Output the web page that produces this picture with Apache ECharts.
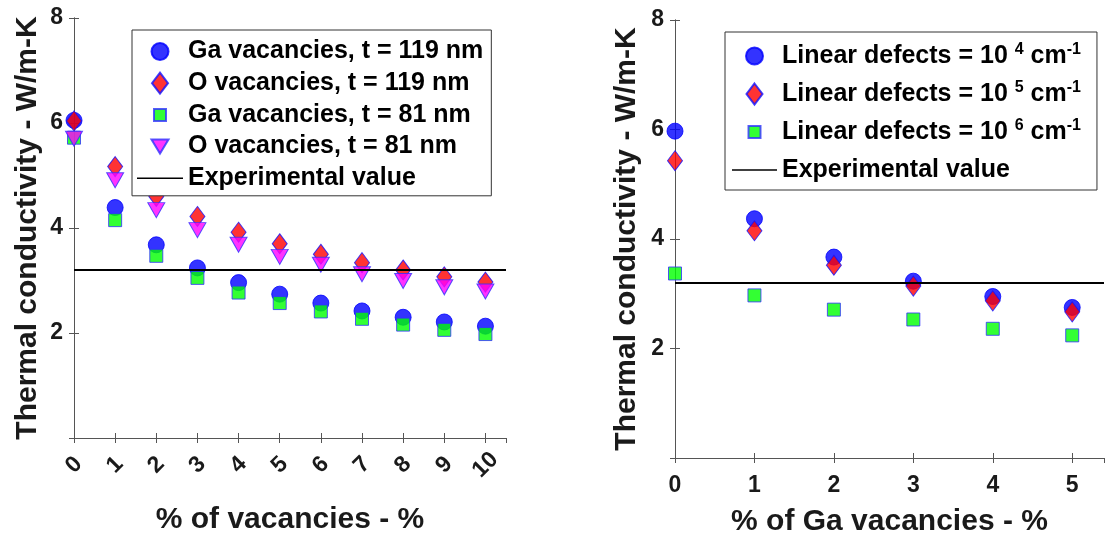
<!DOCTYPE html>
<html>
<head>
<meta charset="utf-8">
<script src="https://cdn.jsdelivr.net/npm/echarts@6/dist/echarts.min.js"></script>
<style>
  html, body { margin: 0; padding: 0; background: #fff; }
  #chart { width: 1105px; height: 535px; }
</style>
</head>
<body>
<div id="chart"></div>
<script>
// Left panel: thermal conductivity vs. % of vacancies, two film thicknesses
const vacancyPct = [0, 1, 2, 3, 4, 5, 6, 7, 8, 9, 10];
const gaVac119 = [6.05, 4.39, 3.68, 3.24, 2.96, 2.74, 2.57, 2.42, 2.30, 2.21, 2.13];
const oVac119  = [6.04, 5.17, 4.60, 4.22, 3.92, 3.70, 3.50, 3.34, 3.20, 3.07, 2.97];
const gaVac81  = [5.72, 4.15, 3.47, 3.05, 2.77, 2.57, 2.41, 2.27, 2.16, 2.06, 1.98];
const oVac81   = [5.70, 4.91, 4.34, 3.96, 3.68, 3.45, 3.30, 3.12, 2.99, 2.87, 2.79];
const leftNames = ['Ga vacancies, t = 119 nm', 'O vacancies, t = 119 nm',
                   'Ga vacancies, t = 81 nm', 'O vacancies, t = 81 nm'];

// Right panel: thermal conductivity vs. % of Ga vacancies, linear defect densities
const gaVacPct = [0, 1, 2, 3, 4, 5];
const defects1e4 = [5.97, 4.37, 3.67, 3.23, 2.95, 2.75];
const defects1e5 = [5.43, 4.15, 3.52, 3.14, 2.87, 2.67];
const defects1e6 = [3.37, 2.97, 2.71, 2.53, 2.36, 2.24];
const rightNames = ['Linear defects = 10^4 cm^-1', 'Linear defects = 10^5 cm^-1',
                    'Linear defects = 10^6 cm^-1'];
const rightLabels = ['Linear defects = 10 {s|4} cm{s|-1}', 'Linear defects = 10 {s|5} cm{s|-1}',
                     'Linear defects = 10 {s|6} cm{s|-1}'];

const experimentalValue = 3.2;
const expName = 'Experimental value';

const FONT = "'Liberation Sans', Arial, sans-serif";
const AX = '#555555';
const TXT = '#1a1a1a';

const pairs = (xs, ys) => xs.map((x, i) => [x, ys[i]]);

// Legend icons; the lone move-to points pad the bounding box so every icon
// keeps its own size inside the 22px item box.
const pad = 'M-11,-11M11,11';
const icons = {
  circle: 'path://' + pad + 'M-8.5,0A8.5,8.5 0 1,0 8.5,0A8.5,8.5 0 1,0 -8.5,0Z',
  diamond: 'path://' + pad + 'M0,-10.5L8,0L0,10.5L-8,0Z',
  square: 'path://' + pad + 'M-6,-6L6,-6L6,6L-6,6Z',
  tri: 'path://' + pad + 'M-8.5,-7L8.5,-7L0,7Z',
  line: 'path://M-23,-11M23,11M-23,-0.8L23,-0.8L23,0.8L-23,0.8Z'
};

const blueStyle = { color: '#0000ff', borderColor: '#0000ff', borderWidth: 1 };
const redStyle = { color: '#ff0000', borderColor: '#1010ff', borderWidth: 1 };
const greenStyle = { color: '#00ff00', borderColor: '#3030ff', borderWidth: 1 };
const magStyle = { color: '#ff00ff', borderColor: '#3030ff', borderWidth: 1 };

function expSeries(xi, yi, name) {
  return {
    name: name, type: 'line', xAxisIndex: xi, yAxisIndex: yi,
    data: [], symbol: 'none',
    lineStyle: { color: '#000', width: 2 },
    itemStyle: { color: '#000', borderWidth: 0 },
    markLine: {
      silent: true, symbol: 'none', animation: false,
      label: { show: false },
      lineStyle: { color: '#000', width: 2, type: 'solid' },
      data: [{ yAxis: experimentalValue }]
    }
  };
}

function mainX(gi, max, rotate, labelMargin, name, nameGap) {
  return {
    type: 'value', gridIndex: gi, min: 0, max: max, interval: 1,
    position: 'bottom',
    name: name, nameLocation: 'middle', nameGap: nameGap,
    nameTextStyle: { fontFamily: FONT, fontWeight: 'bold', fontSize: 30, color: TXT },
    axisLine: { lineStyle: { color: AX, width: 1 } },
    axisTick: { inside: true, length: 5, lineStyle: { color: AX } },
    splitLine: { show: false },
    axisLabel: rotate ? {
      rotate: 45, align: 'center', verticalAlign: 'middle', margin: labelMargin,
      fontFamily: FONT, fontWeight: 'bold', fontSize: 23, color: TXT,
      showMaxLabel: false
    } : {
      margin: labelMargin, fontFamily: FONT, fontWeight: 'bold', fontSize: 23, color: TXT,
      showMaxLabel: false
    }
  };
}
function topX(gi, max) {
  return {
    type: 'value', gridIndex: gi, min: 0, max: max, interval: 1, position: 'top',
    axisLine: { lineStyle: { color: AX, width: 1 } },
    axisTick: { inside: true, length: 5, lineStyle: { color: AX } },
    axisLabel: { show: false }, splitLine: { show: false }
  };
}
function mainY(gi, nameGap) {
  return {
    type: 'value', gridIndex: gi, min: 0, max: 8, interval: 2, position: 'left',
    name: 'Thermal conductivity - W/m-K', nameLocation: 'middle', nameGap: nameGap,
    nameTextStyle: { fontFamily: FONT, fontWeight: 'bold', fontSize: 30, color: TXT },
    axisLine: { show: true, lineStyle: { color: AX, width: 1 } },
    axisTick: { show: true, inside: true, length: 5, lineStyle: { color: AX } },
    splitLine: { show: false },
    axisLabel: {
      margin: 11, fontFamily: FONT, fontWeight: 'bold', fontSize: 23, color: TXT,
      formatter: v => (v === 0 ? '' : String(v))
    }
  };
}
function rightY(gi) {
  return {
    type: 'value', gridIndex: gi, min: 0, max: 8, interval: 2, position: 'right',
    axisLine: { show: true, lineStyle: { color: AX, width: 1 } },
    axisTick: { show: true, inside: true, length: 5, lineStyle: { color: AX } },
    axisLabel: { show: false }, splitLine: { show: false }
  };
}

const legendText = { fontFamily: FONT, fontWeight: 'bold', fontSize: 25, color: '#000', lineHeight: 24 };

const option = {
  animation: false,
  backgroundColor: '#fff',
  grid: [
    { left: 74, top: 18, width: 432, height: 420, containLabel: false, outerBoundsMode: 'none' },
    { left: 675, top: 20, width: 429, height: 438, containLabel: false, outerBoundsMode: 'none' }
  ],
  xAxis: [
    mainX(0, 10.5, true, 27, '% of vacancies - %', 67),
    mainX(1, 5.4, false, 16, '% of Ga vacancies - %', 49),
    topX(0, 10.5),
    topX(1, 5.4)
  ],
  yAxis: [
    mainY(0, 31),
    mainY(1, 33),
    rightY(0),
    rightY(1)
  ],
  legend: [
    {
      orient: 'vertical', left: 132, top: 30,
      padding: [9, 8, 5, 5],
      itemWidth: 46, itemHeight: 22, itemGap: 6.7,
      itemTextGap: 7,
      backgroundColor: '#fff', borderColor: '#333', borderWidth: 1, borderRadius: 0,
      textStyle: legendText,
      data: [
        { name: leftNames[0], icon: icons.circle },
        { name: leftNames[1], icon: icons.diamond },
        { name: leftNames[2], icon: icons.square },
        { name: leftNames[3], icon: icons.tri },
        { name: expName, icon: icons.line }
      ],
      selectedMode: false
    },
    {
      orient: 'vertical', left: 725, top: 32,
      padding: [9, 16, 5, 7],
      itemWidth: 45, itemHeight: 22, itemGap: 8,
      itemTextGap: 6,
      backgroundColor: '#fff', borderColor: '#333', borderWidth: 1, borderRadius: 0,
      textStyle: Object.assign({}, legendText, {
        lineHeight: 30,
        rich: {
          s: { fontFamily: FONT, fontWeight: 'bold', fontSize: 16, color: '#000',
               lineHeight: 16, verticalAlign: 'top', padding: [1, 0, 0, 0] }
        }
      }),
      formatter: name => {
        const i = rightNames.indexOf(name);
        return i >= 0 ? rightLabels[i] : name.trim();
      },
      data: [
        { name: rightNames[0], icon: icons.circle },
        { name: rightNames[1], icon: icons.diamond },
        { name: rightNames[2], icon: icons.square },
        { name: expName + ' ', icon: icons.line }
      ],
      selectedMode: false
    }
  ],
  series: [
    expSeries(0, 0, expName),
    { name: leftNames[0], type: 'scatter', xAxisIndex: 0, yAxisIndex: 0,
      symbol: 'circle', symbolSize: 16, itemStyle: blueStyle, data: pairs(vacancyPct, gaVac119) },
    { name: leftNames[1], type: 'scatter', xAxisIndex: 0, yAxisIndex: 0,
      symbol: 'diamond', symbolSize: [15, 20], itemStyle: redStyle, data: pairs(vacancyPct, oVac119) },
    { name: leftNames[2], type: 'scatter', xAxisIndex: 0, yAxisIndex: 0,
      symbol: 'rect', symbolSize: 13, itemStyle: greenStyle, data: pairs(vacancyPct, gaVac81) },
    { name: leftNames[3], type: 'scatter', xAxisIndex: 0, yAxisIndex: 0,
      symbol: 'triangle', symbolRotate: 180, symbolSize: [17, 15], itemStyle: magStyle,
      data: pairs(vacancyPct, oVac81) },

    expSeries(1, 1, expName + ' '),
    { name: rightNames[0], type: 'scatter', xAxisIndex: 1, yAxisIndex: 1,
      symbol: 'circle', symbolSize: 16, itemStyle: blueStyle, data: pairs(gaVacPct, defects1e4) },
    { name: rightNames[1], type: 'scatter', xAxisIndex: 1, yAxisIndex: 1,
      symbol: 'diamond', symbolSize: [15, 20], itemStyle: redStyle, data: pairs(gaVacPct, defects1e5) },
    { name: rightNames[2], type: 'scatter', xAxisIndex: 1, yAxisIndex: 1,
      symbol: 'rect', symbolSize: 13, itemStyle: greenStyle, data: pairs(gaVacPct, defects1e6) }
  ]
};

const chart = echarts.init(document.getElementById('chart'), null, { renderer: 'canvas' });
chart.setOption(option);
</script>
</body>
</html>
